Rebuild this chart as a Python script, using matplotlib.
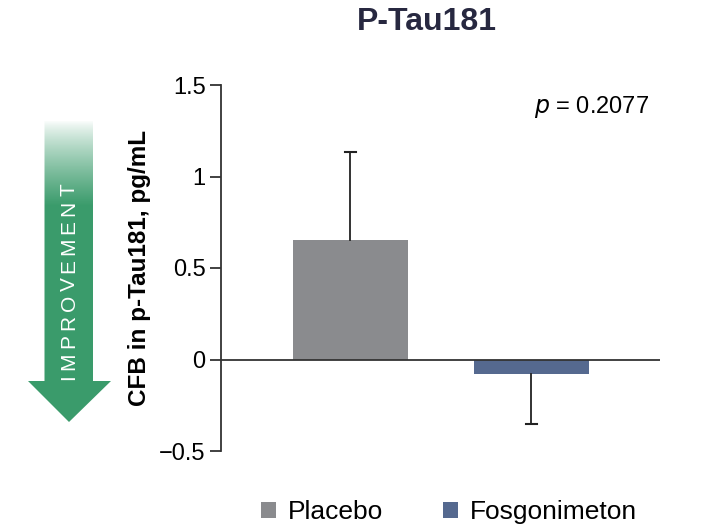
import numpy as np
import matplotlib
matplotlib.use("Agg")
import matplotlib.pyplot as plt
from matplotlib.patches import Polygon, Patch

plt.rcParams['font.family'] = ['Liberation Sans', 'DejaVu Sans']

# data
groups = ['Placebo', 'Fosgonimeton']
means = [0.655, -0.08]
errors = [0.48, 0.27]
bar_colors = ['#8a8b8e', '#55698f']
yticks = [-0.5, 0, 0.5, 1, 1.5]
ytick_labels = ['\u22120.5', '0', '0.5', '1', '1.5']
p_value = '0.2077'

W, H = 702, 527
fig = plt.figure(figsize=(W / 100, H / 100), dpi=100)

# main axes (pixel box: x 221..660, y 85..451)
ax = fig.add_axes([221 / W, 1 - 451 / H, (660 - 221) / W, (451 - 85) / H])
x = np.arange(len(groups))
ax.bar(x, means, width=0.635, color=bar_colors, zorder=2)

# one-sided error bars (away from zero), cap only at the far end
for xi, m, e in zip(x, means, errors):
    end = m + e if m > 0 else m - e
    ax.plot([xi, xi], [m, end], color='#222222', lw=1.3, zorder=3)
    ax.plot([xi - 0.03, xi + 0.03], [end, end], color='#222222', lw=1.5, zorder=3)
ax.axhline(0, color='#333333', lw=1.3, zorder=4)

ax.set_xlim(-0.715, 1.71)
ax.set_ylim(-0.5, 1.5)
ax.set_yticks(yticks)
ax.set_yticklabels(ytick_labels, fontsize=17)
ax.set_xticks([])
for s in ['top', 'right', 'bottom']:
    ax.spines[s].set_visible(False)
ax.spines['left'].set_color('#333333')
ax.spines['left'].set_linewidth(1.3)
ax.tick_params(axis='y', length=8, width=1.3, color='#333333', pad=3)
ax.set_ylabel('CFB in p-Tau181, pg/mL', fontsize=17.5, fontweight='bold', labelpad=6)

ax.text(0.975, 0.94, r'$\it{p}$ = ' + p_value, transform=ax.transAxes,
        ha='right', va='center', fontsize=17)

fig.text(427 / W, 1 - 22 / H, 'P-Tau181', ha='center', va='center',
         fontsize=23, fontweight='bold', color='#272840')

# improvement arrow with fading top (pixel box x 28..112, y 120..424)
aax = fig.add_axes([28 / W, 1 - 424 / H, 84 / W, 304 / H])
aax.set_xlim(0, 84)
aax.set_ylim(0, 304)
aax.axis('off')
arrow = Polygon([[16.5, 304], [65, 304], [65, 43], [83, 43], [41, 2],
                 [0, 43], [16.5, 43]], closed=True, facecolor='none', edgecolor='none')
aax.add_patch(arrow)
yy = np.linspace(304, 0, 304)
alpha = np.clip((304 - yy) / 85, 0, 1) ** 0.8
grad = np.zeros((304, 1, 4))
grad[..., 0], grad[..., 1], grad[..., 2] = 0x3a / 255, 0x9b / 255, 0x6b / 255
grad[:, 0, 3] = alpha
im = aax.imshow(grad, extent=[0, 84, 0, 304], aspect='auto', origin='upper')
im.set_clip_path(arrow)

# letter-spaced vertical label
word = 'IMPROVEMENT'
renderer = fig.canvas.get_renderer()
widths = []
for ch in word:
    t = aax.text(0, 0, ch, fontsize=15)
    widths.append(t.get_window_extent(renderer).width)
    t.remove()
span = 196.0
gap = (span - sum(widths)) / (len(word) - 1)
pos = 142.5 - span / 2
for ch, w in zip(word, widths):
    aax.text(41, pos + w / 2, ch, rotation=90, ha='center', va='center',
             color='white', fontsize=15)
    pos += w + gap

handles = [Patch(facecolor=c, edgecolor='none') for c in bar_colors]
fig.legend(handles, groups, loc='center', bbox_to_anchor=(449 / W, 1 - 512 / H),
           ncol=2, frameon=False, fontsize=19, handlelength=0.55, handleheight=0.55,
           handletextpad=0.45, columnspacing=2.3)

fig.savefig('out.png', dpi=100)
